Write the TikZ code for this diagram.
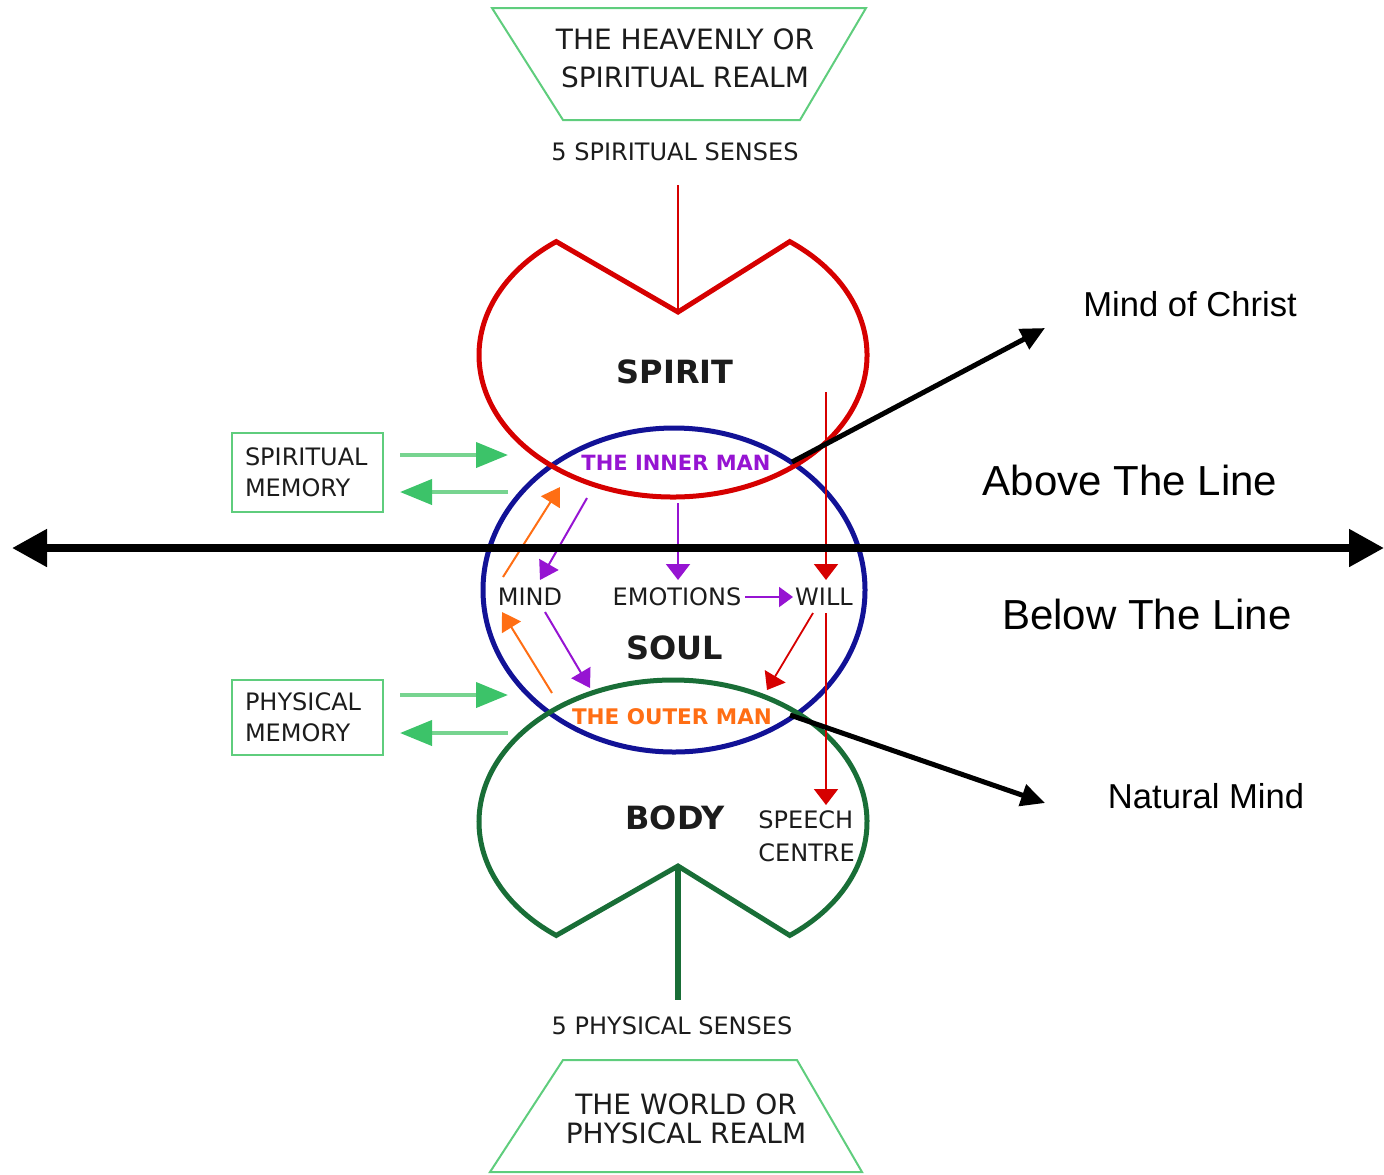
\documentclass[tikz,border=0pt]{standalone}
\usepackage{fontspec}
\setmainfont{DejaVu Sans}
\newfontfamily\arialf{Liberation Sans}
\usetikzlibrary{arrows.meta,calc}
\definecolor{spred}{RGB}{214,0,0}
\definecolor{soulblue}{RGB}{18,18,150}
\definecolor{bodygreen}{RGB}{25,110,55}
\definecolor{lgreen}{RGB}{95,205,125}
\definecolor{mgreen}{RGB}{60,195,105}
\definecolor{purp}{RGB}{150,20,210}
\definecolor{orng}{RGB}{255,110,20}
\definecolor{txt}{RGB}{28,28,28}
\tikzset{
  lbl/.style={inner sep=0pt, text=txt},
  spiritline/.style={draw=spred, line width=2.5pt, line join=miter},
  soulline/.style={draw=soulblue, line width=2.5pt},
  bodyline/.style={draw=bodygreen, line width=2.5pt, line join=miter},
  realm/.style={draw=lgreen, line width=1pt},
  membox/.style={draw=lgreen, line width=1pt, inner xsep=6.5pt, text width=62.5pt, align=left,
     font=\fontsize{12pt}{15.5pt}\selectfont, text=txt},
  memarrow/.style={draw=lgreen!85, line width=2pt, -{Triangle[length=16pt,width=12.5pt,fill=mgreen,color=mgreen]}},
  purarrow/.style={draw=purp, line width=1pt, -{Triangle[length=9pt,width=11pt]}},
  orarrow/.style={draw=orng, line width=1pt, -{Triangle[length=9pt,width=11pt]}},
  redarrow/.style={draw=spred, line width=0.9pt, -{Triangle[length=8pt,width=12pt]}},
  blkarrow/.style={draw=black, line width=2.5pt, -{Triangle[length=12pt,width=11pt]}},
  bigarrow/.style={draw=black, line width=4pt, {Triangle[length=17.5pt,width=18pt]}-{Triangle[length=17.5pt,width=18pt]}},
  sidelbl/.style={inner sep=0pt, text=black, font=\arialf\fontsize{17.3pt}{20pt}\selectfont},
  sidelblbig/.style={inner sep=0pt, text=black, font=\arialf\fontsize{21pt}{24pt}\selectfont},
}
\begin{document}
\begin{tikzpicture}[x=0.5pt,y=-0.5pt]
\useasboundingbox (0,0) rectangle (1384,1174);

% realms
\draw[realm] (492,8) -- (866,8) -- (800,120) -- (563,120) -- cycle;
\node[lbl, align=center, font=\fontsize{14pt}{19pt}\selectfont] (heaven) at (685,58) {THE HEAVENLY OR\\SPIRITUAL REALM};
\node[lbl, font=\fontsize{12pt}{14pt}\selectfont] (spsenses) at (675,152) {5 SPIRITUAL SENSES};

\draw[realm] (563,1060) -- (797,1060) -- (862,1172) -- (490,1172) -- cycle;
\node[lbl, align=center, font=\fontsize{14pt}{14.5pt}\selectfont] (world) at (686,1119) {THE WORLD OR\\PHYSICAL REALM};
\node[lbl, font=\fontsize{12pt}{14pt}\selectfont] (physenses) at (672,1026) {5 PHYSICAL SENSES};

% soul
\draw[soulline] (674,590) coordinate (soulc) ellipse[x radius=191, y radius=162];
% spirit
\draw[spiritline] (673,355) ++(-53:194 and 142) coordinate (sR)
   arc[start angle=-53, end angle=233, x radius=194, y radius=142] coordinate (sL)
   -- (678,312) coordinate (sN) -- cycle;
% body
\draw[bodyline] (673,822) ++(127:194 and 142) coordinate (bL)
   arc[start angle=127, end angle=413, x radius=194, y radius=142] coordinate (bR)
   -- (678,866) coordinate (bN) -- cycle;

% vertical lines
\coordinate (rtop) at (678,185);
\draw[draw=spred, line width=0.8pt] (rtop) -- (sN);
\coordinate (gbot) at (678,1000);
\draw[draw=bodygreen, line width=2.6pt] (bN) -- (gbot);

% main labels
\node[lbl, font=\bfseries\fontsize{16pt}{18pt}\selectfont] (spirit) at (675,372) {SPIRIT};
\node[lbl, font=\bfseries\fontsize{16pt}{18pt}\selectfont] (soul) at (675,648) {SOUL};
\node[lbl, font=\bfseries\fontsize{16pt}{18pt}\selectfont] (body) at (675,818) {BODY};
\node[lbl, text=purp, font=\bfseries\fontsize{10.5pt}{12pt}\selectfont] (inner) at (676,463) {THE INNER MAN};
\node[lbl, text=orng, font=\bfseries\fontsize{10.75pt}{12pt}\selectfont] (outer) at (672,717) {THE OUTER MAN};
\node[lbl, font=\fontsize{12pt}{14pt}\selectfont] (mind) at (530,597) {MIND};
\node[lbl, font=\fontsize{12pt}{14pt}\selectfont] (emotions) at (677,597) {EMOTIONS};
\node[lbl, font=\fontsize{12pt}{14pt}\selectfont] (will) at (824,597) {WILL};
\node[lbl, align=left, anchor=north west, font=\fontsize{12pt}{16.5pt}\selectfont] (speech) at (758,810) {SPEECH\\CENTRE};

% soul arrows
\coordinate (o1a) at (503,577); \coordinate (o1b) at (560,487);
\coordinate (p1a) at (587,498); \coordinate (p1b) at (540,580);
\coordinate (o2a) at (552,693); \coordinate (o2b) at (502,612);
\coordinate (p2a) at (545,612); \coordinate (p2b) at (590,688);
\coordinate (r1a) at (813,613); \coordinate (r1b) at (767,690);
\coordinate (ema) at (678,503); \coordinate (emb) at (678,580);
\coordinate (ewa) at (745,597); \coordinate (ewb) at (793,597);
\coordinate (rla) at (826,392); \coordinate (rlb) at (826,580);
\coordinate (rlc) at (826,613); \coordinate (rld) at (826,805);
\draw[orarrow] (o1a) -- (o1b);
\draw[purarrow] (p1a) -- (p1b);
\draw[orarrow] (o2a) -- (o2b);
\draw[purarrow] (p2a) -- (p2b);
\draw[redarrow] (r1a) -- (r1b);
\draw[purarrow, -{Triangle[length=8pt,width=12pt]}] (ema) -- (emb);
\draw[purarrow, -{Triangle[length=7pt,width=10pt]}] (ewa) -- (ewb);
\draw[redarrow] (rla) -- (rlb);
\draw[redarrow] (rlc) -- (rld);

% memory boxes
\node[membox, minimum height=39.5pt] (spmem) at (307.5,472.5) {SPIRITUAL\\MEMORY};
\node[membox, minimum height=37.5pt] (phmem) at (307.5,717.5) {PHYSICAL\\MEMORY};
\coordinate (sm1a) at (400,455); \coordinate (sm1b) at (508,455);
\coordinate (sm2a) at (508,492); \coordinate (sm2b) at (400,492);
\coordinate (pm1a) at (400,695); \coordinate (pm1b) at (508,695);
\coordinate (pm2a) at (508,733); \coordinate (pm2b) at (400,733);
\draw[memarrow] (sm1a) -- (sm1b);
\draw[memarrow] (sm2a) -- (sm2b);
\draw[memarrow] (pm1a) -- (pm1b);
\draw[memarrow] (pm2a) -- (pm2b);

% the line
\coordinate (lineL) at (12,548); \coordinate (lineR) at (1384,548);
\draw[bigarrow] (lineL) -- (lineR);

% side labels
\node[sidelbl] (christ) at (1190,304) {Mind of Christ};
\node[sidelblbig] (above) at (1130,480) {Above The Line};
\node[sidelblbig] (below) at (1147,614) {Below The Line};
\node[sidelbl] (natural) at (1206,796) {Natural Mind};
\coordinate (c1a) at (792,462); \coordinate (c1b) at (1045,328);
\coordinate (n1a) at (790,715); \coordinate (n1b) at (1045,803);
\draw[blkarrow] (c1a) -- (c1b);
\draw[blkarrow] (n1a) -- (n1b);
\end{tikzpicture}
\end{document}
